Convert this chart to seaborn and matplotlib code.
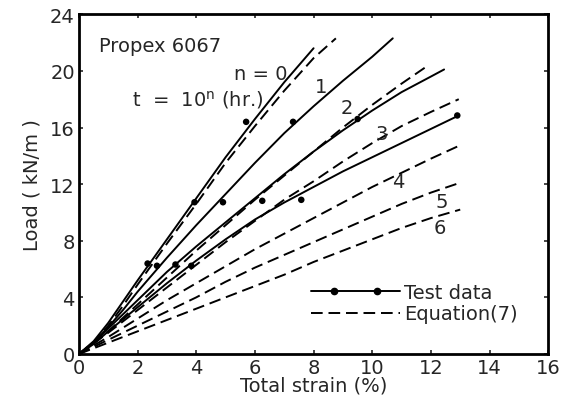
"""
Propex 6067 - load vs total strain, test data and Equation (7)
for t = 10^n hours, n = 0..6.  Values read off a scanned figure.
Output : out.png
"""

import pandas as pd
import matplotlib
matplotlib.use('Agg')
import matplotlib.pyplot as plt
from matplotlib.lines import Line2D
from matplotlib.legend_handler import HandlerLine2D
import seaborn as sns

# ── Test data curves (solid) ──────────────────────────────────
t0_x = [0, 0.5, 1, 1.5, 2, 3, 4, 5, 6, 7, 8.0]
t0_y = [0, 0.9, 2.2, 3.7, 5.2, 8.1, 11.0, 13.9, 16.6, 19.2, 21.6]
t1_x = [0, 0.5, 1, 1.5, 2, 3, 4, 5, 6, 7, 8, 9, 10, 10.7]
t1_y = [0, 0.8, 1.9, 3.1, 4.4, 6.8, 9.1, 11.3, 13.5, 15.6, 17.5, 19.3, 21.0, 22.3]
t2_x = [0, 0.5, 1, 2, 3, 4, 5, 6, 7, 8, 9, 10, 11, 12, 12.45]
t2_y = [0, 0.8, 1.8, 3.8, 5.8, 7.6, 9.3, 11.0, 12.7, 14.3, 15.8, 17.2, 18.5, 19.6, 20.1]
t3_x = [0, 0.5, 1, 2, 3, 4, 5, 6, 7, 8, 9, 10, 11, 12, 12.9]
t3_y = [0, 0.7, 1.6, 3.3, 5.0, 6.6, 8.1, 9.5, 10.7, 11.8, 12.9, 13.9, 14.9, 15.9, 16.8]

# measured points
dot_x = [2.34, 2.66, 3.29, 3.83, 3.94, 4.91, 6.25, 7.58, 5.7, 7.3, 9.5, 12.9]
dot_y = [6.39, 6.23, 6.32, 6.23, 10.72, 10.72, 10.82, 10.89, 16.4, 16.4, 16.6, 16.85]

# ── Equation (7) curves (dashed) ──────────────────────────────
e0_x = [0, 0.5, 1, 1.5, 2, 3, 4, 5, 6, 7, 8, 8.76]
e0_y = [0, 0.8, 2.0, 3.4, 4.9, 7.8, 10.6, 13.5, 16.1, 18.6, 20.9, 22.3]
e2_x = [0, 1, 2, 3, 4, 5, 6, 7, 8, 9, 10, 11, 11.88]
e2_y = [0, 1.6, 3.5, 5.4, 7.3, 9.1, 10.9, 12.6, 14.3, 16.0, 17.6, 19.1, 20.35]
e3_x = [0, 1, 2, 3, 4, 5, 6, 7, 8, 9, 10, 11, 12, 12.95]
e3_y = [0, 1.5, 3.1, 4.7, 6.3, 7.9, 9.4, 10.9, 12.2, 13.6, 14.9, 16.1, 17.1, 18.0]
e4_x = [0, 1, 2, 3, 4, 5, 6, 7, 8, 9, 10, 11, 12, 12.95]
e4_y = [0, 1.2, 2.5, 3.8, 5.0, 6.2, 7.4, 8.5, 9.6, 10.7, 11.8, 12.8, 13.8, 14.7]
e5_x = [0, 1, 2, 3, 4, 5, 6, 7, 8, 9, 10, 11, 12, 13.0]
e5_y = [0, 1.0, 2.0, 3.0, 4.0, 5.1, 6.1, 7.0, 7.9, 8.8, 9.7, 10.6, 11.4, 12.1]
e6_x = [0, 1, 2, 3, 4, 5, 6, 7, 8, 9, 10, 11, 12, 13.0]
e6_y = [0, 0.8, 1.6, 2.4, 3.2, 4.0, 4.8, 5.6, 6.5, 7.3, 8.1, 8.9, 9.6, 10.2]

# curve labels (n) and where they sit
lab_text = ['1', '2', '3', '4', '5', '6']
lab_x = [8.26, 9.14, 10.32, 10.9, 12.38, 12.32]
lab_y = [18.9, 17.4, 15.6, 12.2, 10.8, 8.9]


def long(curves):
    rows = []
    for n, (xs, ys) in curves.items():
        rows += [{'n': n, 'strain': x, 'load': y} for x, y in zip(xs, ys)]
    return pd.DataFrame(rows)


test = long({0: (t0_x, t0_y), 1: (t1_x, t1_y), 2: (t2_x, t2_y), 3: (t3_x, t3_y)})
eq = long({0: (e0_x, e0_y), 2: (e2_x, e2_y), 3: (e3_x, e3_y),
           4: (e4_x, e4_y), 5: (e5_x, e5_y), 6: (e6_x, e6_y)})
dots = pd.DataFrame({'strain': dot_x, 'load': dot_y})

# ── Plot ──────────────────────────────────────────────────────
sns.set_style('ticks')
plt.rcParams['font.family'] = ['DejaVu Sans']

fig = plt.figure(figsize=(5.64, 4.02), dpi=100, facecolor='white')
ax = fig.add_axes([0.140, 0.117, 0.832, 0.845])

DASH = (0, (6, 3))
sns.lineplot(data=test, x='strain', y='load', units='n', estimator=None,
             color='black', linewidth=1.4, ax=ax)
sns.lineplot(data=eq, x='strain', y='load', units='n', estimator=None,
             color='black', linewidth=1.4, linestyle=DASH, ax=ax)
sns.scatterplot(data=dots, x='strain', y='load', color='black', s=22,
                edgecolor='none', ax=ax, zorder=3)

for t, x, y in zip(lab_text, lab_x, lab_y):
    ax.text(x, y, t, fontsize=14, ha='center', va='center')
ax.text(6.2, 19.8, 'n = 0', fontsize=14, ha='center', va='center')
ax.text(1.8, 18.0, 't  =  10$^{\\mathregular{n}}$ (hr.)', fontsize=14,
        ha='left', va='center')
ax.text(0.7, 21.8, 'Propex 6067', fontsize=14, ha='left', va='center')

# ── Legend ────────────────────────────────────────────────────
# full-width solid line + two dots on top of it
h_line = Line2D([], [], color='black', linewidth=1.4)
h_dots = Line2D([], [], color='black', linestyle='none', marker='o',
                markersize=4.5)
h_eq = Line2D([], [], color='black', linewidth=1.4, linestyle=DASH)
ax.legend([(h_line, h_dots), h_eq], ['Test data', 'Equation(7)'],
          handler_map={h_dots: HandlerLine2D(numpoints=2, marker_pad=1.2)},
          loc='center left', bbox_to_anchor=(0.494, 0.15), frameon=False,
          fontsize=14, handlelength=4.6, handletextpad=0.2,
          labelspacing=0.15, borderpad=0, borderaxespad=0)

# ── Formatting ────────────────────────────────────────────────
ax.set_xlim(0, 16)
ax.set_ylim(0, 24)
ax.set_xticks(range(0, 17, 2))
ax.set_yticks(range(0, 25, 4))
ax.set_xlabel('Total strain (%)', fontsize=14, labelpad=-1)
ax.set_ylabel('Load ( kN/m )', fontsize=14, labelpad=6)
ax.tick_params(direction='in', length=3, width=1.2, labelsize=14,
               top=True, right=True, pad=3)
for s in ax.spines.values():
    s.set_visible(True)
    s.set_linewidth(2)
    s.set_color('black')

plt.savefig('out.png', dpi=100, facecolor='white')
print("Saved -> out.png")
